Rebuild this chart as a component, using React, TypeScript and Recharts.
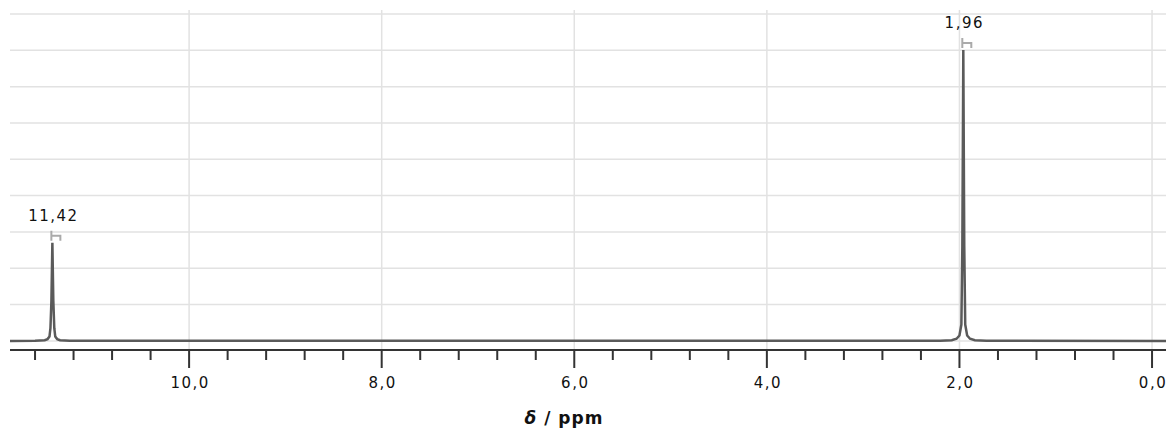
import React from 'react';
import { ComposedChart, Line, Scatter, XAxis, YAxis, ReferenceLine } from 'recharts';

// spectrum trace (ppm, intensity)
const shiftPpm = [
  11.86, 11.6, 11.5, 11.47, 11.45, 11.44, 11.43, 11.42, 11.41, 11.4, 11.39, 11.37, 11.34, 11.24,
  2.2, 2.08, 2.03, 2.0, 1.98, 1.97, 1.96, 1.95, 1.94, 1.92, 1.89, 1.84, 1.72, -0.15,
];
const intensity = [
  0, 0.005, 0.02, 0.05, 0.12, 0.35, 1.1, 2.7, 1.1, 0.35, 0.12, 0.05, 0.02, 0.005,
  0.005, 0.02, 0.06, 0.15, 0.45, 2.6, 8.01, 2.6, 0.45, 0.15, 0.06, 0.02, 0.005, 0,
];

// picked peaks
const peakShifts = [11.42, 1.96];
const peakHeights = [2.7, 8.01];
const peakLabels = ['11,42', '1,96'];

// axis ticks
const xTicks = [
  0, 0.4, 0.8, 1.2, 1.6, 2, 2.4, 2.8, 3.2, 3.6, 4, 4.4, 4.8, 5.2, 5.6, 6, 6.4, 6.8, 7.2, 7.6, 8,
  8.4, 8.8, 9.2, 9.6, 10, 10.4, 10.8, 11.2, 11.6,
];
const majorTicks = [0, 2, 4, 6, 8, 10];
const yGrid = [0, 1, 2, 3, 4, 5, 6, 7, 8, 9];

const spectrum = shiftPpm.map((ppm, i) => ({ ppm, intensity: intensity[i] }));
const peaks = peakShifts.map((ppm, i) => ({ ppm, h: peakHeights[i], label: peakLabels[i] }));

const font = '"DejaVu Sans", Verdana, sans-serif';

function PpmTick({ x, y, payload }: any) {
  const v = payload.value;
  const major = majorTicks.includes(v);
  return (
    <g>
      <line x1={x} x2={x} y1={y} y2={y + (major ? 18 : 10)} stroke="#333" strokeWidth={2} />
      {major && (
        <text x={x + 1} y={y + 38} textAnchor="middle" fontFamily={font} fontSize={15} letterSpacing={1.5} fill="#111">
          {v.toFixed(1).replace('.', ',')}
        </text>
      )}
    </g>
  );
}

function PeakMarker({ cx, cy, payload }: any) {
  return (
    <g>
      <path
        d={`M${cx - 1},${cy - 12} L${cx - 1},${cy - 2} M${cx - 1},${cy - 7} L${cx + 8},${cy - 7} L${cx + 8},${cy - 2}`}
        stroke="#aaa"
        strokeWidth={2}
        fill="none"
      />
      <text x={cx + 1} y={cy - 22} textAnchor="middle" fontFamily={font} fontSize={15} letterSpacing={1.5} fill="#111">
        {payload.label}
      </text>
    </g>
  );
}

function AxisTitle({ viewBox }: any) {
  const { x, width } = viewBox;
  return (
    <text x={x + width / 2 - 24} y={424} textAnchor="middle" fontFamily={font} fontSize={17} fontWeight="bold" letterSpacing={1} fill="#111">
      <tspan fontStyle="italic">δ</tspan> / ppm
    </text>
  );
}

export default function App() {
  return (
    <div style={{ position: 'absolute', left: 0, top: 0, background: '#fff' }}>
      <ComposedChart width={1166} height={432} margin={{ top: 10, right: 0, left: 10, bottom: 0 }}>
        <XAxis
          dataKey="ppm"
          type="number"
          reversed
          domain={[-0.145, 11.86]}
          allowDataOverflow
          ticks={xTicks}
          interval={0}
          height={82}
          tickSize={0}
          tickMargin={0}
          tickLine={false}
          axisLine={{ stroke: '#333', strokeWidth: 2 }}
          tick={<PpmTick />}
          label={<AxisTitle />}
        />
        <YAxis hide type="number" domain={[-0.25, 9.11]} allowDataOverflow />
        {yGrid.map((v) => (
          <ReferenceLine key={`h${v}`} y={v} stroke="#e2e2e2" strokeWidth={1.5} />
        ))}
        {majorTicks.map((v) => (
          <ReferenceLine key={`v${v}`} x={v} stroke="#e2e2e2" strokeWidth={1.5} />
        ))}
        <Line
          data={spectrum}
          dataKey="intensity"
          type="linear"
          stroke="#5a5a5a"
          strokeWidth={2.5}
          dot={false}
          activeDot={false}
          isAnimationActive={false}
        />
        <Scatter data={peaks} dataKey="h" shape={<PeakMarker />} isAnimationActive={false} />
      </ComposedChart>
    </div>
  );
}
